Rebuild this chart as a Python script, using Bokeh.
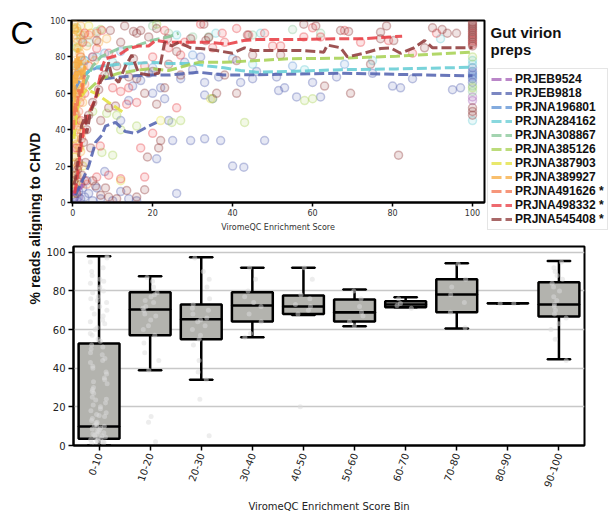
import math
from bokeh.plotting import figure
from bokeh.models import Range1d, FactorRange, Legend, LegendItem, Label, FixedTicker
from bokeh.layouts import row, column
from bokeh.transform import jitter
from bokeh.embed import file_html
from bokeh.resources import INLINE

NAN = float("nan")

# ---------------- data: top panel ----------------
datasets = ["PRJEB9524", "PRJEB9818", "PRJNA196801", "PRJNA284162", "PRJNA308867",
            "PRJNA385126", "PRJNA387903", "PRJNA389927", "PRJNA491626", "PRJNA498332",
            "PRJNA545408"]
legend_labels = ["PRJEB9524", "PRJEB9818", "PRJNA196801", "PRJNA284162", "PRJNA308867",
                 "PRJNA385126", "PRJNA387903", "PRJNA389927", "PRJNA491626 *",
                 "PRJNA498332 *", "PRJNA545408 *"]
colors = ["#a35db5", "#4f5fae", "#5a8fd3", "#62cbd3", "#84c596", "#a5d04f",
          "#e2e03a", "#f7aa3c", "#f3734e", "#e8383f", "#8c3535"]

pts_PRJEB9524 = [(0.3, 2), (0.8, 6), (1.5, 3), (0.6, 48), (1.2, 60), (2.5, 88), (100, 58), (100, 56)]
pts_PRJEB9818 = [(0.5, 3), (1, 1), (1.5, 6), (2, 2), (2.5, 8), (3, 3), (3.5, 12), (4, 5), (5, 1), (6, 8),
                 (7, 2), (8, 17), (10, 1), (12, 6), (14, 2), (16, 1), (26, 5), (21, 24), (40, 20),
                 (42.8, 19.4), (12, 45), (14, 56), (15, 64), (17, 67), (19, 71), (20, 60), (22, 63),
                 (23, 57), (24, 45), (25, 34), (29.5, 34), (33, 35), (37, 34), (27, 68), (28, 77),
                 (30, 73), (32, 80), (33, 66), (33, 59), (35, 57), (36.5, 69), (42, 66), (45, 68),
                 (46, 72), (48, 34), (51, 69), (51.5, 61.5), (53, 63), (56, 58), (60, 66), (62, 58),
                 (66, 69), (75, 71), (80, 64), (82, 63), (85, 68), (95, 62), (97, 63),
                 (100, 74), (100, 72), (100, 70), (100, 68), (100, 66)]
pts_PRJNA196801 = [(1, 70), (2, 74), (3, 78), (5, 80), (8, 82), (12, 83), (20, 74), (30, 81),
                   (40, 79), (55, 75), (68, 76), (100, 71), (100, 69)]
pts_PRJNA284162 = [(1, 75), (3, 78), (6, 80), (10, 77), (15, 74), (26, 92), (35.8, 93), (47, 93),
                   (45, 76), (58, 73), (75, 78), (92, 90), (100, 78), (100, 76), (100, 45)]
pts_PRJNA308867 = [(1, 85), (2, 90), (4, 88), (6, 94), (9, 70), (20, 97), (24, 93), (30, 91),
                   (34, 91), (45, 92), (55, 95), (62, 93), (100, 64), (100, 61)]
pts_PRJNA385126 = [(1, 96), (2, 92), (7, 95), (5, 50), (8.5, 49), (11, 48), (12, 40), (7.3, 27.5),
                   (10, 26), (16, 42), (21, 98), (24.8, 44), (27, 45), (35, 57), (43, 44), (58, 56),
                   (60, 57), (100, 80), (100, 63)]
pts_PRJNA387903 = [(0.2, 5), (0.4, 15), (0.6, 25), (0.3, 35), (0.8, 45), (0.5, 55), (1.0, 65),
                   (0.7, 75), (1.2, 85), (0.4, 95), (1.5, 60), (0.9, 10), (0.2, 50), (1.8, 30),
                   (2.5, 20), (12, 12), (34.5, 57), (22, 45), (4, 97)]
pts_PRJNA389927 = [(0.3, 98), (0.5, 95), (0.8, 92), (1.0, 90), (1.2, 88), (1.5, 85), (1.8, 82),
                   (2.0, 80), (2.3, 78), (2.6, 75), (3.0, 72), (0.4, 70), (0.7, 68), (1.1, 65),
                   (1.4, 62), (1.7, 60), (2.1, 58), (2.5, 55), (0.2, 52), (0.6, 50), (0.9, 48),
                   (1.3, 45), (1.6, 42), (1.9, 40), (2.2, 38), (0.5, 35), (1.0, 32), (1.5, 30),
                   (2.0, 28), (0.3, 25), (0.8, 22), (1.2, 20), (2.8, 92), (3.5, 86), (4.5, 93),
                   (5.5, 78), (6.5, 88), (0.4, 96), (1.1, 15), (0.7, 10), (0.2, 82), (0.9, 76),
                   (1.6, 72), (2.4, 66), (0.6, 62), (1.3, 94), (2.0, 97), (8.5, 90)]
pts_PRJNA491626 = [(0.5, 30), (1, 40), (1.5, 50), (0.8, 60), (1.2, 70), (2, 80), (2.5, 88), (0.3, 45),
                   (1.8, 55), (3, 65), (0.6, 75), (1.4, 20), (2.2, 35), (4, 92), (6, 93), (3.5, 10)]
pts_PRJNA498332 = [(1, 30), (2, 45), (3, 60), (4, 75), (5, 80), (6, 84.6), (7.3, 94.5), (3, 93),
                   (9, 82), (10, 63), (12, 61), (14, 63), (13.5, 54), (16, 55), (17, 30), (18, 14),
                   (6.9, 31), (18, 75), (20, 80), (23, 94.5), (24, 85), (27, 81), (28, 88), (32, 98),
                   (37.4, 93), (41, 95.6), (44, 92), (35, 85), (38, 88), (48, 93), (50, 86),
                   (52, 86), (57.8, 91), (60, 96), (62, 91), (68, 94.5), (72, 88), (79, 89),
                   (85, 82), (91, 93), (3, 12), (6, 14), (9, 15), (12, 13), (20, 38), (26, 52),
                   (100, 93), (100, 89), (100, 87)]
pts_PRJNA545408 = [(0.3, 12), (0.5, 8), (0.8, 15), (1, 5), (1.2, 18), (1.5, 22), (2, 10), (2.3, 15),
                   (2.7, 33), (3.2, 22), (3.5, 40), (4, 48), (4.5, 30), (5, 55), (5.7, 9), (6, 89),
                   (6.5, 62), (7, 45), (8.2, 8), (8, 70), (9, 52), (9.4, 94.5), (10.7, 53), (11, 75),
                   (12, 88), (13.5, 6.6), (14, 69), (15.2, 79), (15.2, 94), (16, 68), (17, 94.5),
                   (18, 60), (19, 91), (20, 72), (21, 95.6), (21, 54), (21.5, 30), (22, 34), (23, 63),
                   (24, 76), (26, 83), (27, 70), (29.5, 90), (32.8, 98), (33.3, 89), (34, 90.6),
                   (36, 60), (38, 70), (41, 78), (41, 60), (43.7, 92), (45, 81), (52, 81),
                   (57.8, 98), (60.8, 97), (63, 64), (67, 94.5), (69, 94), (69.5, 60), (74.5, 76),
                   (77, 93.6), (77, 90), (78.5, 97), (80.3, 89), (81.5, 26), (88, 85), (90, 96),
                   (92.4, 95), (93.7, 93), (96, 93), (13, 97), (16, 93), (23.7, 90), (18.7, 25),
                   (5, 12), (7, 4), (9, 3), (11, 2), (16, 3), (18, 7),
                   (100, 99), (100, 98), (100, 97), (100, 96), (100, 95), (100, 94), (100, 92),
                   (100, 91), (100, 90), (100, 88), (100, 86), (100, 52), (100, 50), (100, 48)]

trend_PRJEB9524 = [(0.2, 4), (0.8, 8), (1.5, 6), (2.5, 10)]
trend_PRJEB9818 = [(0.7, 4), (2.2, 11), (4, 20), (5.7, 33), (7.3, 37), (8.2, 42), (10.7, 44),
                   (13.2, 39), (15.7, 38), (19, 42), (21, 44), (NAN, NAN), (8, 68), (12, 69),
                   (18, 70), (24, 70), (31.5, 71.6), (37.8, 70), (46, 70.2), (67, 71), (100, 69.6)]
trend_PRJNA196801 = [(0.5, 62), (2, 68), (4, 72), (6, 74), (9, 73)]
trend_PRJNA284162 = [(3, 70), (5, 74), (7.3, 75), (11.5, 76), (15.7, 76.4), (19.7, 77), (24, 76.4),
                     (29.5, 76.4), (33.7, 75), (37.8, 74), (42, 72.5), (46, 71.6), (54.5, 72),
                     (67, 73), (81, 73.4), (100, 74.3)]
trend_PRJNA308867 = [(3, 65), (5, 75), (7, 80), (11.5, 84.6), (15.7, 86), (19.7, 89), (24, 91),
                     (26.5, 93)]
trend_PRJNA385126 = [(4, 62), (7, 68), (11.5, 71), (15.7, 72.5), (19.7, 73.6), (24, 72.5), (28, 75),
                     (31.5, 77), (37.8, 77), (46, 78), (54.5, 79), (67, 79.3), (81, 80.4),
                     (100, 82.6)]
trend_PRJNA387903 = [(0.3, 35), (1, 50), (2, 58), (3.5, 62), (5.7, 60), (9, 55), (13, 49)]
trend_PRJNA389927 = [(0.1, 50), (0.3, 70), (0.5, 55), (0.8, 80), (1.0, 65), (1.3, 85), (1.6, 70),
                     (2, 78), (2.5, 60), (3, 75), (4, 78)]
trend_PRJNA491626 = [(0.2, 40), (0.6, 55), (1, 50), (1.5, 62), (2, 58), (2.5, 65), (3, 70)]
trend_PRJNA498332 = [(0.5, 5), (1.2, 15), (2.2, 33), (3, 42), (4, 49), (5.7, 57), (7.3, 74),
                     (8.2, 79), (11.5, 81), (14, 84.6), (16.5, 86), (19, 86), (20.7, 89), (24, 88),
                     (28, 88), (34.5, 88), (38.7, 87), (42.8, 89), (46, 89.5), (54.5, 89.5),
                     (67, 90), (72.8, 90), (82.4, 91.4)]
trend_PRJNA545408 = [(0.3, 10), (0.7, 13), (1.5, 26), (2.2, 42), (3.2, 48), (3.5, 38), (4.4, 49),
                     (5.7, 57), (6.9, 66), (8.2, 71), (9, 77), (9.7, 70), (11.5, 66), (13.2, 75),
                     (14.8, 81), (16.5, 71), (19, 70), (21.5, 71), (23, 88), (24.8, 86), (26.5, 88),
                     (29.5, 85), (32, 84.6), (36, 83.5), (40, 82), (43, 85), (45, 83.5),
                     (48.7, 83.5), (57, 83.5), (62.8, 82.6), (63.7, 86.5), (67, 85), (68.7, 80),
                     (72.8, 82), (77, 84.6), (79.5, 85), (82, 82), (85.3, 85), (88, 89), (90, 85),
                     (92.8, 85), (100, 85)]

scatter_sets = [pts_PRJEB9524, pts_PRJEB9818, pts_PRJNA196801, pts_PRJNA284162, pts_PRJNA308867,
                pts_PRJNA385126, pts_PRJNA387903, pts_PRJNA389927, pts_PRJNA491626,
                pts_PRJNA498332, pts_PRJNA545408]
trend_sets = [trend_PRJEB9524, trend_PRJEB9818, trend_PRJNA196801, trend_PRJNA284162,
              trend_PRJNA308867, trend_PRJNA385126, trend_PRJNA387903, trend_PRJNA389927,
              trend_PRJNA491626, trend_PRJNA498332, trend_PRJNA545408]

top_ticks = [0, 20, 40, 60, 80, 100]

# ---------------- data: bottom panel ----------------
bins = ["0-10", "10-20", "20-30", "30-40", "40-50", "50-60", "60-70", "70-80", "80-90", "90-100"]
whisk_low = [0, 39, 34, 56, 67.5, 61.7, 71.5, 60.6, 73.6, 44.6]
q1 = [3.5, 57, 55, 64.2, 68, 64.2, 71.5, 69, 73.6, 66.8]
median = [9.8, 70.4, 65.3, 72.5, 72, 68.9, 73, 78.2, 73.6, 73]
q3 = [52.8, 79.3, 73, 79.3, 77.7, 75.6, 74.6, 86, 73.6, 84.5]
whisk_high = [98, 87.6, 97.4, 92, 92, 80.8, 76.7, 94.3, 73.6, 95.5]

strip_0_10 = [0, 0.5, 1, 1.2, 1.5, 2, 2.3, 2.6, 3, 3.2, 3.6, 4, 4.4, 5, 5.3, 5.8, 6, 6.6, 7, 7.4,
              8, 8.5, 9, 9.6, 10, 10.5, 11, 11.8, 12, 13, 14, 15, 15.5, 16, 17, 18, 19, 20, 21, 22,
              23.5, 24, 25, 27, 28, 29, 30, 32, 33, 34, 35, 37, 38, 40, 41, 43, 44, 45, 47, 48, 50,
              51, 52, 54, 55, 57, 58, 60, 61, 63, 64, 65, 67, 68, 70, 71, 72, 74, 75, 76, 77, 79,
              80, 81, 82, 84, 85, 86, 88, 90, 92, 95, 97, 98]
strip_10_20 = [2, 12, 15, 39, 44, 48, 53, 57, 60, 62, 65, 67, 68, 70, 71, 72, 74, 75, 77, 78, 79,
               82, 85, 87]
strip_20_30 = [5, 24, 34, 38, 44, 52, 55, 57, 60, 62, 64, 65, 66, 68, 70, 71, 73, 76, 82, 86, 90, 97]
strip_30_40 = [56, 58, 64, 68, 72, 74, 77, 80, 86, 92]
strip_40_50 = [20, 68, 70, 72, 73, 76, 78, 86, 92]
strip_50_60 = [62, 64, 67, 69, 72, 76, 80]
strip_60_70 = [71, 72.5, 73.5, 76]
strip_70_80 = [61, 69, 74, 78, 82, 86, 94]
strip_80_90 = [73.5, 73.5]
strip_90_100 = [44, 55, 60, 63, 66, 68, 70, 72, 73, 75, 77, 80, 82, 84, 86, 88, 90, 92, 95]
strips = [strip_0_10, strip_10_20, strip_20_30, strip_30_40, strip_40_50, strip_50_60,
          strip_60_70, strip_70_80, strip_80_90, strip_90_100]
bottom_ticks = [0, 20, 40, 60, 80, 100]

TICK_FONT = "DejaVu Sans"
BOLD_FONT = "Liberation Sans"

# ---------------- left label strip ----------------
LAB_H = 514
lab = figure(width=42, height=LAB_H, x_range=Range1d(0, 42), y_range=Range1d(0, LAB_H),
             toolbar_location=None, output_backend="svg", min_border=0,
             x_axis_location=None, y_axis_location=None)
lab.grid.visible = False
lab.outline_line_color = None
lab.add_layout(Label(x=10, y=LAB_H - 32, text="C", text_font=BOLD_FONT, text_font_size="32px",
                     text_baseline="alphabetic", text_color="black"))
lab.add_layout(Label(x=34.5, y=LAB_H - 218, text="% reads aligning to CHVD",
                     angle=math.pi / 2, text_align="center", text_baseline="middle",
                     text_font=BOLD_FONT, text_font_style="bold", text_font_size="14px",
                     text_color="#111111"))

# ---------------- top panel ----------------
TOP_H = 238
top = figure(width=444, height=TOP_H, x_range=Range1d(-0.3, 103), y_range=Range1d(0, 100),
             toolbar_location=None, output_backend="svg",
             min_border_left=29, min_border_right=2, min_border_top=20, min_border_bottom=36)
top.grid.visible = False
top.outline_line_color = "black"
top.outline_line_width = 2

for pts, c in zip(scatter_sets, colors):
    top.scatter([p[0] for p in pts], [p[1] for p in pts], size=8, fill_color=c, fill_alpha=0.14,
                line_color=c, line_alpha=0.35, line_width=1.5)
for tr, c in zip(trend_sets, colors):
    top.line([p[0] for p in tr], [p[1] for p in tr], line_color=c, line_width=3,
             line_dash="10 4", line_alpha=0.85)

for ax in (top.xaxis[0], top.yaxis[0]):
    ax.ticker = FixedTicker(ticks=top_ticks)
    ax.minor_tick_line_color = None
    ax.major_tick_in = 0
    ax.major_tick_out = 4
    ax.major_tick_line_width = 1.5
    ax.axis_line_width = 2
    ax.major_label_text_font = TICK_FONT
    ax.major_label_text_font_size = "8px"
    ax.major_label_text_color = "#333333"
    ax.major_label_standoff = 2
top.xaxis.axis_label = "ViromeQC Enrichment Score"
top.xaxis.axis_label_text_font = TICK_FONT
top.xaxis.axis_label_text_font_size = "8px"
top.xaxis.axis_label_text_font_style = "normal"
top.xaxis.axis_label_text_color = "#333333"
top.xaxis.axis_label_standoff = 4

# ---------------- legend panel ----------------
LEG_W = 129
leg = figure(width=LEG_W, height=TOP_H, x_range=Range1d(0, LEG_W), y_range=Range1d(0, TOP_H),
             toolbar_location=None, output_backend="svg", min_border=0,
             x_axis_location=None, y_axis_location=None)
leg.grid.visible = False
leg.outline_line_color = None
leg_renderers = []
for c in colors:
    leg_renderers.append(leg.line([-50, -40], [-50, -50], line_color=c, line_width=3,
                                  line_dash="10 4", line_alpha=0.75))
legend = Legend(items=[LegendItem(label=l, renderers=[r]) for l, r in zip(legend_labels, leg_renderers)],
                location=(1, 8), margin=0, padding=3, spacing=-3,
                glyph_width=21, glyph_height=14, label_height=14, label_standoff=3,
                label_text_font=BOLD_FONT, label_text_font_style="bold",
                label_text_font_size="12px", label_text_color="#111111",
                border_line_color="#cccccc", border_line_width=1.5,
                background_fill_color="white", background_fill_alpha=0.9)
leg.add_layout(legend, "center")
leg.add_layout(Label(x=4, y=TOP_H - 32, text="Gut virion", text_font=BOLD_FONT,
                     text_font_style="bold", text_font_size="15px", text_baseline="alphabetic",
                     text_color="#111111"))
leg.add_layout(Label(x=4, y=TOP_H - 49, text="preps", text_font=BOLD_FONT,
                     text_font_style="bold", text_font_size="15px", text_baseline="alphabetic",
                     text_color="#111111"))

# ---------------- bottom panel ----------------
bot = figure(width=548, height=276, x_range=FactorRange(*bins), y_range=Range1d(0, 103),
             toolbar_location=None, output_backend="svg",
             min_border_left=31, min_border_right=6, min_border_top=8, min_border_bottom=69)
bot.xgrid.visible = False
bot.ygrid.ticker = FixedTicker(ticks=bottom_ticks)
bot.ygrid.grid_line_color = "#c8c8c8"
bot.ygrid.grid_line_width = 1.5
bot.outline_line_color = "black"
bot.outline_line_width = 2

bot.segment(x0=bins, y0=whisk_low, x1=bins, y1=q1, line_color="black", line_width=2.5)
bot.segment(x0=bins, y0=q3, x1=bins, y1=whisk_high, line_color="black", line_width=2.5)
bot.vbar(x=bins, bottom=q1, top=q3, width=0.8, fill_color="#b3b3ae", line_color="black",
         line_width=2.5)
bot.rect(x=bins, y=median, width=0.8, height=0.01, fill_color="black", line_color="black",
         line_width=2.5)
bot.rect(x=bins, y=whisk_high, width=0.45, height=0.01, fill_color="black", line_color="black",
         line_width=2.5)
bot.rect(x=bins, y=whisk_low, width=0.45, height=0.01, fill_color="black", line_color="black",
         line_width=2.5)

sx, sy = [], []
for b, vals in zip(bins, strips):
    for v in vals:
        sx.append(b)
        sy.append(v)
bot.scatter(x=jitter("x", width=0.35, range=bot.x_range), y="y", source=dict(x=sx, y=sy),
            size=5, fill_color="#dcdcdc", fill_alpha=0.5, line_color=None)

for ax in (bot.xaxis[0], bot.yaxis[0]):
    ax.minor_tick_line_color = None
    ax.major_tick_in = 0
    ax.major_tick_out = 5
    ax.major_tick_line_width = 1.5
    ax.axis_line_width = 2
    ax.major_label_text_font = TICK_FONT
    ax.major_label_text_font_size = "10px"
    ax.major_label_text_color = "#222222"
    ax.major_label_standoff = 3
bot.yaxis.ticker = FixedTicker(ticks=bottom_ticks)
bot.xaxis.major_label_orientation = math.radians(70)
bot.xaxis.axis_label = "ViromeQC Enrichment Score Bin"
bot.xaxis.axis_label_text_font = TICK_FONT
bot.xaxis.axis_label_text_font_size = "10px"
bot.xaxis.axis_label_text_font_style = "normal"
bot.xaxis.axis_label_text_color = "#222222"
bot.xaxis.axis_label_standoff = 8

layout = row(lab, column(row(top, column(leg)), bot))
open("out.html", "w").write(file_html(layout, INLINE))
